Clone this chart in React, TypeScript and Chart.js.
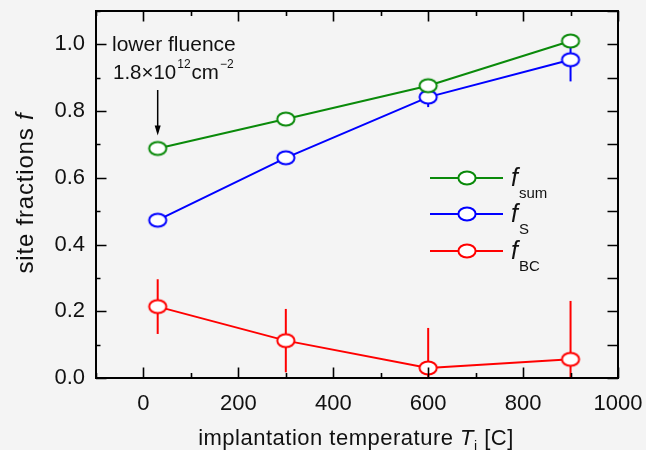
import React, { useEffect, useRef } from "react";
import { Chart, registerables } from "chart.js";

Chart.register(...registerables);

const temperatures = [30, 300, 600, 900];
const fSum = [0.688, 0.776, 0.876, 1.01];
const fSumErr = [0, 0, 0, 0.01];
const fS = [0.473, 0.66, 0.842, 0.954];
const fSErr = [0, 0, 0.03, 0.065];
const fBC = [0.214, 0.112, 0.03, 0.056];
const fBCErr = [0.082, 0.095, 0.12, 0.175];

const xTickLabels = ["0", "200", "400", "600", "800", "1000"];
const yTickLabels = ["0.0", "0.2", "0.4", "0.6", "0.8", "1.0"];

const seriesNames = ["sum", "S", "BC"];
const seriesColors = ["#0a8a0a", "#0000ff", "#ff0000"];

const FONT = "'Liberation Sans', Arial, Helvetica, sans-serif";
const BG = "#f4f4f4";

function makeEllipse(color: string): HTMLCanvasElement {
  const c = document.createElement("canvas");
  c.width = 22;
  c.height = 18;
  const ctx = c.getContext("2d")!;
  ctx.beginPath();
  ctx.ellipse(11, 9, 8.6, 6.6, 0, 0, Math.PI * 2);
  ctx.fillStyle = "#ffffff";
  ctx.fill();
  ctx.lineWidth = 2;
  ctx.strokeStyle = color;
  ctx.stroke();
  return c;
}

export default function App() {
  const ref = useRef<HTMLCanvasElement | null>(null);

  useEffect(() => {
    document.body.style.margin = "0";
    const canvas = ref.current!;
    const markers = seriesColors.map(makeEllipse);
    const vals = [fSum, fS, fBC];
    const errs = [fSumErr, fSErr, fBCErr];

    const errorBars = {
      id: "errorBars",
      beforeDatasetsDraw(chart: any) {
        const { ctx, chartArea } = chart;
        const xs = chart.scales.x;
        const ys = chart.scales.y;
        ctx.save();
        ctx.beginPath();
        ctx.rect(chartArea.left, chartArea.top, chartArea.right - chartArea.left, chartArea.bottom - chartArea.top);
        ctx.clip();
        vals.forEach((arr, i) => {
          const e = errs[i];
          ctx.strokeStyle = seriesColors[i];
          ctx.lineWidth = 2;
          arr.forEach((v, j) => {
            if (!e[j]) return;
            const px = xs.getPixelForValue(temperatures[j]);
            ctx.beginPath();
            ctx.moveTo(px, ys.getPixelForValue(v - e[j]));
            ctx.lineTo(px, ys.getPixelForValue(v + e[j]));
            ctx.stroke();
          });
        });
        ctx.restore();
      },
    };

    const frame = {
      id: "frame",
      afterDraw(chart: any) {
        const { ctx, chartArea } = chart;
        const { left, right, top, bottom } = chartArea;
        const xs = chart.scales.x;
        const ys = chart.scales.y;
        ctx.save();
        ctx.strokeStyle = "#000";
        ctx.lineWidth = 2;
        ctx.strokeRect(left, top, right - left, bottom - top);
        ctx.lineWidth = 1.6;
        for (let v = -100; v <= 1000; v += 100) {
          const px = Math.round(xs.getPixelForValue(v)) + 0.5;
          const major = v % 200 === 0;
          const len = major ? 10.5 : 5;
          ctx.beginPath();
          ctx.moveTo(px, bottom);
          ctx.lineTo(px, bottom - len);
          ctx.moveTo(px, top);
          ctx.lineTo(px, top + len);
          ctx.stroke();
        }
        for (let k = 0; k <= 11; k++) {
          const v = k / 10;
          const py = Math.round(ys.getPixelForValue(v)) + 0.5;
          const major = k % 2 === 0;
          ctx.beginPath();
          ctx.moveTo(left, py);
          ctx.lineTo(left + (major ? 10.5 : 4.5), py);
          ctx.moveTo(right, py);
          ctx.lineTo(right - 10.5, py);
          ctx.stroke();
        }

        // annotation
        const ax = xs.getPixelForValue(temperatures[0]);
        const ayTip = ys.getPixelForValue(fSum[0]) - 13;
        ctx.fillStyle = "#111";
        ctx.textBaseline = "alphabetic";
        ctx.textAlign = "left";
        ctx.font = `21px ${FONT}`;
        ctx.fillText("lower fluence", left + 16, 51);
        let tx = left + 17;
        const s1 = "1.8×10";
        ctx.font = `20.5px ${FONT}`;
        ctx.fillText(s1, tx, 79);
        tx += ctx.measureText(s1).width + 1;
        ctx.font = `12px ${FONT}`;
        ctx.fillText("12", tx, 68);
        tx += ctx.measureText("12").width + 1;
        ctx.font = `20.5px ${FONT}`;
        ctx.fillText("cm", tx, 79);
        tx += ctx.measureText("cm").width + 1;
        ctx.font = `12px ${FONT}`;
        ctx.fillText("−2", tx, 68);
        ctx.strokeStyle = "#000";
        ctx.lineWidth = 1.5;
        ctx.beginPath();
        ctx.moveTo(ax, 90);
        ctx.lineTo(ax, ayTip - 4);
        ctx.stroke();
        ctx.beginPath();
        ctx.moveTo(ax - 3, ayTip - 10);
        ctx.lineTo(ax + 3, ayTip - 10);
        ctx.lineTo(ax, ayTip);
        ctx.closePath();
        ctx.fillStyle = "#000";
        ctx.fill();

        // legend
        const rows = [178, 214, 251];
        seriesNames.forEach((name, i) => {
          const y = rows[i];
          ctx.strokeStyle = seriesColors[i];
          ctx.lineWidth = 2;
          ctx.beginPath();
          ctx.moveTo(430, y);
          ctx.lineTo(503, y);
          ctx.stroke();
          ctx.drawImage(markers[i], 467 - 11, y - 9);
          ctx.fillStyle = "#111";
          ctx.font = `italic 25px ${FONT}`;
          ctx.fillText("f", 511, y + 8);
          ctx.font = `15px ${FONT}`;
          ctx.fillText(name, 519, y + 20);
        });

        // x title
        ctx.fillStyle = "#111";
        const parts: [string, string, number][] = [
          ["implantation temperature ", `22px ${FONT}`, 0],
          ["T", `italic 22px ${FONT}`, 0],
          ["i", `14px ${FONT}`, 6],
          [" [C]", `22px ${FONT}`, 0],
        ];
        (ctx as any).letterSpacing = "0.5px";
        let total = 0;
        parts.forEach(([t, f]) => {
          ctx.font = f;
          total += ctx.measureText(t).width;
        });
        let cx = 356 - total / 2;
        parts.forEach(([t, f, dy]) => {
          ctx.font = f;
          ctx.fillText(t, cx, 445 + dy);
          cx += ctx.measureText(t).width;
        });

        // y title
        ctx.save();
        ctx.translate(33, 193);
        ctx.rotate(-Math.PI / 2);
        (ctx as any).letterSpacing = "0.8px";
        const yt = "site fractions ";
        ctx.font = `24px ${FONT}`;
        const w1 = ctx.measureText(yt).width;
        ctx.font = `italic 24px ${FONT}`;
        const w2 = ctx.measureText("f").width;
        const start = -(w1 + w2) / 2;
        ctx.font = `24px ${FONT}`;
        ctx.fillText(yt, start, 0);
        ctx.font = `italic 24px ${FONT}`;
        ctx.fillText("f", start + w1, 0);
        ctx.restore();
        (ctx as any).letterSpacing = "0px";

        ctx.restore();
      },
    };

    const mk = (label: string, data: number[], i: number) => ({
      label,
      data: data.map((v, j) => ({ x: temperatures[j], y: v })),
      borderColor: seriesColors[i],
      backgroundColor: "#fff",
      borderWidth: 2,
      pointStyle: markers[i],
      pointRadius: 9,
      showLine: true,
    });

    const chart = new Chart(canvas, {
      type: "scatter",
      data: {
        datasets: [mk("f_sum", fSum, 0), mk("f_S", fS, 1), mk("f_BC", fBC, 2)],
      },
      options: {
        animation: false,
        responsive: false,
        layout: { padding: { left: 0, right: 28, top: 8, bottom: 0 } },
        plugins: { legend: { display: false }, tooltip: { enabled: false } },
        scales: {
          x: {
            type: "linear",
            min: -100,
            max: 1000,
            grid: { display: false, drawTicks: false },
            border: { display: false },
            afterFit: (s: any) => {
              s.height = 72;
              s.paddingLeft = 0;
              s.paddingRight = 0;
            },
            afterBuildTicks: (s: any) => {
              s.ticks = xTickLabels.map((l) => ({ value: Number(l) }));
            },
            ticks: {
              autoSkip: false,
              maxRotation: 0,
              padding: 13,
              color: "#111",
              font: { family: FONT, size: 22 },
              callback: (v: any) => xTickLabels.find((l) => Number(l) === v) ?? "",
            },
          },
          y: {
            min: 0,
            max: 1.1,
            grid: { display: false, drawTicks: false },
            border: { display: false },
            afterFit: (s: any) => {
              s.width = 96;
              s.paddingTop = 0;
              s.paddingBottom = 0;
            },
            afterBuildTicks: (s: any) => {
              s.ticks = yTickLabels.map((l) => ({ value: Number(l) }));
            },
            ticks: {
              autoSkip: false,
              padding: 11,
              color: "#111",
              font: { family: FONT, size: 22 },
              callback: (v: any) => yTickLabels.find((l) => Math.abs(Number(l) - v) < 1e-6) ?? "",
            },
          },
        },
      },
      plugins: [errorBars, frame],
    } as any);
    return () => chart.destroy();
  }, []);

  return (
    <div style={{ position: "fixed", left: 0, top: 0, width: 646, height: 450, background: BG }}>
      <canvas ref={ref} width={646} height={450} style={{ width: 646, height: 450 }} />
    </div>
  );
}
